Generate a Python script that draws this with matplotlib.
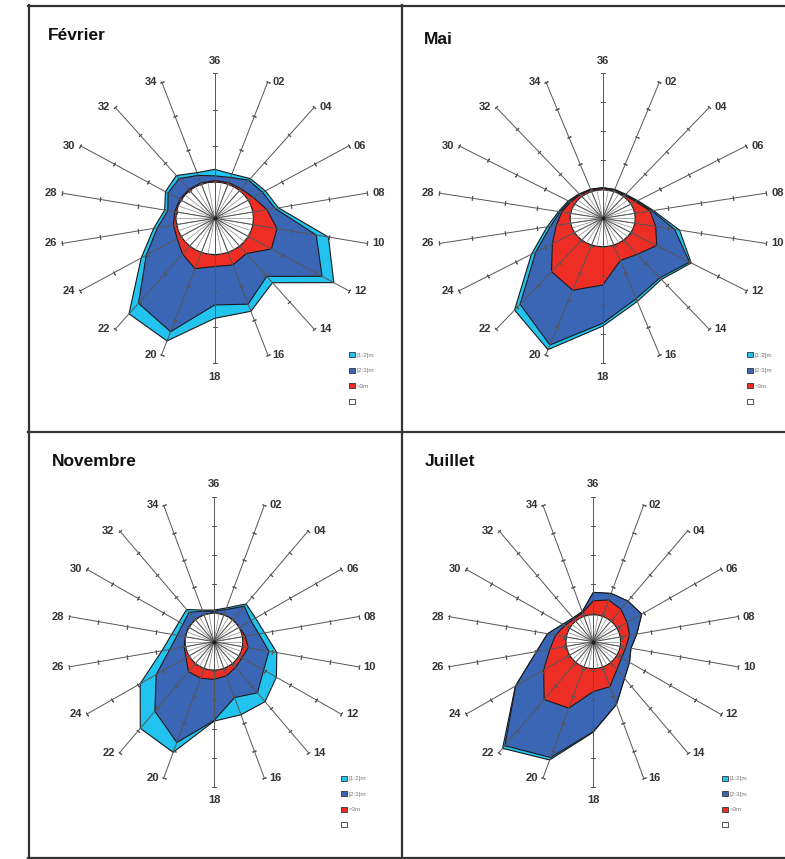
import numpy as np
import matplotlib.pyplot as plt
from matplotlib.lines import Line2D
from matplotlib.patches import Patch

plt.rcParams['font.family'] = ['Liberation Sans', 'DejaVu Sans']

W, H = 785, 859

# wave direction sectors (every 20 degrees, clockwise from north)
directions = ['36', '02', '04', '06', '08', '10', '12', '14', '16', '18',
              '20', '22', '24', '26', '28', '30', '32', '34']
bearings = [0, 20, 40, 60, 80, 100, 120, 140, 160, 180,
            200, 220, 240, 260, 280, 300, 320, 340]
legend_labels = ['[1:2[m', '[2:3[m', '>3m', '']

# outer limit of each height class (stacked), in radial axis units
fev_1_2 = [1.35, 1.30, 1.43, 1.51, 1.67, 2.98, 3.55, 2.32, 2.73, 2.76, 3.60, 3.44, 2.19, 1.60, 1.31, 1.47, 1.54, 1.34]
fev_2_3 = [1.17, 1.20, 1.37, 1.43, 1.58, 2.66, 3.20, 2.09, 2.52, 2.39, 3.33, 3.06, 2.04, 1.50, 1.23, 1.39, 1.43, 1.26]
fev_3 = [1.04, 1.05, 1.06, 1.15, 1.37, 1.63, 1.69, 1.27, 1.37, 1.33, 1.48, 1.29, 1.12, 1.08, 1.05, 1.04, 1.04, 1.04]
fev_calme = 1.0

mai_1_2 = [1.06, 1.06, 1.08, 1.22, 1.55, 2.35, 3.08, 2.75, 3.05, 3.72, 4.82, 4.13, 2.48, 1.70, 1.35, 1.20, 1.10, 1.07]
mai_2_3 = [1.05, 1.05, 1.07, 1.18, 1.50, 2.20, 3.02, 2.68, 2.95, 3.62, 4.65, 3.87, 2.33, 1.60, 1.30, 1.17, 1.09, 1.06]
mai_3 = [1.03, 1.03, 1.03, 1.15, 1.45, 1.62, 1.88, 1.62, 1.55, 2.30, 2.64, 2.40, 1.75, 1.42, 1.25, 1.12, 1.06, 1.04]
mai_calme = 0.98

nov_1_2 = [1.09, 1.24, 1.70, 1.63, 1.75, 2.17, 2.45, 2.70, 2.68, 2.74, 4.06, 3.90, 2.90, 1.80, 1.46, 1.37, 1.45, 1.16]
nov_2_3 = [1.05, 1.18, 1.60, 1.45, 1.55, 1.90, 1.95, 2.30, 2.05, 2.72, 3.70, 3.13, 2.27, 1.53, 1.27, 1.22, 1.32, 1.12]
nov_3 = [1.00, 1.00, 1.00, 1.00, 1.08, 1.18, 1.10, 1.15, 1.25, 1.30, 1.34, 1.35, 1.10, 1.03, 1.00, 1.00, 1.00, 1.00]
nov_calme = 0.98

jui_1_2 = [1.70, 1.77, 1.83, 1.90, 1.50, 1.30, 1.42, 1.65, 2.30, 3.12, 4.34, 4.80, 3.06, 1.96, 1.58, 1.20, 1.07, 1.10]
jui_2_3 = [1.70, 1.77, 1.83, 1.90, 1.50, 1.30, 1.42, 1.65, 2.30, 3.10, 4.25, 4.68, 3.05, 1.96, 1.58, 1.20, 1.07, 1.10]
jui_3 = [1.41, 1.53, 1.46, 1.33, 1.25, 1.12, 1.11, 1.25, 1.65, 1.72, 2.44, 2.60, 1.95, 1.50, 1.30, 1.12, 1.02, 1.06]
jui_calme = 0.93

cyan = '#22c3ee'
blue = '#3b66b6'
red = '#ee2e24'

fig = plt.figure(figsize=(W / 100, H / 100), dpi=100)


def draw_panel(title, c12, c23, c3, calme, rmax, cx, cy, rx, ry, title_xy, leg_xy):
    ax = fig.add_axes([(cx - rx) / W, 1 - (cy + ry) / H, 2 * rx / W, 2 * ry / H],
                      projection='polar')
    ax.set_theta_zero_location('N')
    ax.set_theta_direction(-1)
    ax.set_ylim(0, rmax)
    ax.set_aspect('auto')
    ax.axis('off')

    th = np.deg2rad(bearings)
    for vals, col, z in [(c12, cyan, 1), (c23, blue, 2), (c3, red, 3)]:
        ax.fill(th, vals, facecolor=col, edgecolor='#1a1a1a', lw=0.8, zorder=z)

    # calm centre
    th36 = np.deg2rad(np.arange(0, 360, 10))
    ax.fill(th36, np.full(36, calme), facecolor='white', edgecolor='#1a1a1a',
            lw=0.8, zorder=4)
    for t in th36:
        ax.plot([t, t], [0, calme], color='#8a8a8a', lw=0.5, zorder=5)
    ax.plot([0], [0], 'o', ms=2, color='#222', zorder=7)

    for t, lab in zip(th, directions):
        ax.plot([t, t], [0, rmax], color='#555', lw=0.7, zorder=6, clip_on=False)
        ang = np.degrees(np.arctan2(ry * np.cos(t), rx * np.sin(t)))
        ax.plot(np.full(rmax, t), np.arange(1, rmax + 1), ls='none',
                marker=(2, 2, ang), ms=3, mec='#555', mew=0.7, zorder=6,
                clip_on=False)
        s, c = np.sin(t), np.cos(t)
        if abs(s) < 0.1:
            ha = 'center'
            va = 'bottom' if c > 0 else 'top'
            off = (0, 5.5 if c > 0 else -6)
        else:
            ha = 'left' if s > 0 else 'right'
            va = 'center'
            off = (3.5 if s > 0 else -3.5, 0)
        ax.annotate(lab, (t, rmax), xytext=off, textcoords='offset points',
                    ha=ha, va=va, fontsize=8, fontweight='bold', color='#333',
                    annotation_clip=False)

    fig.text(title_xy[0] / W, 1 - title_xy[1] / H, title, fontsize=12.5,
             fontweight='bold', va='baseline', color='#111')

    handles = [Patch(facecolor=col, edgecolor='#333', lw=0.6)
               for col in [cyan, blue, red, 'white']]
    fig.legend(handles, legend_labels, loc='upper left',
               bbox_to_anchor=(leg_xy[0] / W, 1 - leg_xy[1] / H),
               fontsize=4.5, labelcolor='#777', frameon=False,
               handlelength=0.9, handleheight=0.9, handletextpad=0.3,
               labelspacing=1.57, borderpad=0, borderaxespad=0)


draw_panel('Février', fev_1_2, fev_2_3, fev_3, fev_calme, 4,
           214.7, 218.3, 155, 145, (48, 40), (349, 352))
draw_panel('Mai', mai_1_2, mai_2_3, mai_3, mai_calme, 5,
           602.7, 218.3, 166, 145, (424, 44), (747, 352))
draw_panel('Novembre', nov_1_2, nov_2_3, nov_3, nov_calme, 5,
           214.0, 641.7, 147, 145, (52, 466), (341, 775.5))
draw_panel('Juillet', jui_1_2, jui_2_3, jui_3, jui_calme, 5,
           593.3, 641.7, 147, 145, (425, 466.5), (722, 775.5))

# panel frame
frame_segments = [((28, 5.5), (785, 5.5)), ((28.5, 5), (28.5, 858)),
                  ((401.5, 5), (401.5, 858)), ((28, 431.5), (785, 431.5)),
                  ((28, 857.5), (785, 857.5))]
for (x0, y0), (x1, y1) in frame_segments:
    fig.add_artist(Line2D([x0 / W, x1 / W], [1 - y0 / H, 1 - y1 / H],
                          transform=fig.transFigure, color='#333', lw=1.6))

fig.savefig('out.png', dpi=100)
